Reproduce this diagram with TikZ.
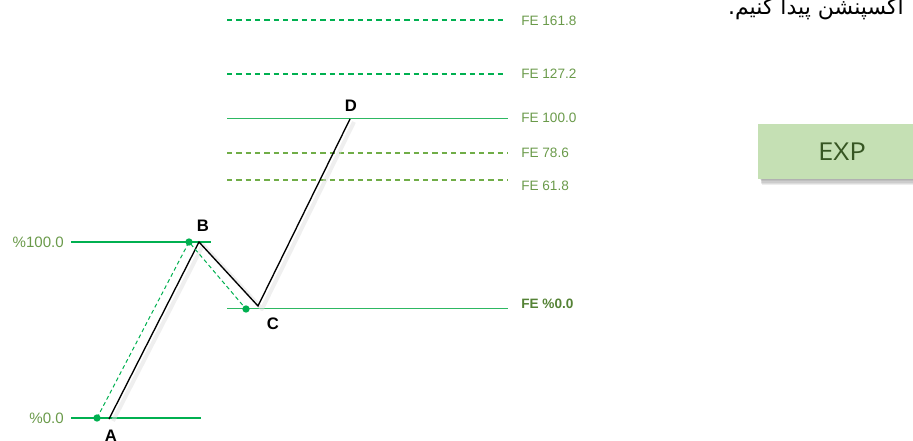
\documentclass[tikz,border=0pt]{standalone}
\usepackage{fontspec}
\usepackage{graphicx}
\setmainfont{Liberation Sans}
\newfontfamily\arabicfont[Script=Arabic]{DejaVu Sans}
\newfontfamily\expfont{Open Sans}
\TeXXeTstate=1
\definecolor{gline}{HTML}{00B050}
\definecolor{gthin}{HTML}{2DB862}
\definecolor{oline}{HTML}{70AD47}
\definecolor{lbl}{HTML}{6A9A4A}
\definecolor{lbld}{HTML}{548235}
\definecolor{expfill}{HTML}{C5E0B4}
\definecolor{exptext}{HTML}{375623}
\tikzset{
  thickg/.style={draw=gline, line width=2.2pt},
  thing/.style={draw=gthin, line width=0.75pt},
  dashg/.style={draw=gline, line width=0.8pt, dash pattern=on 4pt off 3pt},
  dasho/.style={draw=oline, line width=0.8pt, dash pattern=on 4pt off 3pt},
  dashpath/.style={draw=gline, line width=0.75pt, dash pattern=on 3pt off 2.2pt},
  zig/.style={draw=black, line width=1pt, line join=miter},
  zigshadow/.style={draw=black!12, line width=3pt, opacity=0.5, line join=round},
  dotg/.style={circle, fill=gline, inner sep=0pt, minimum size=5.5pt},
  fel/.style={anchor=west, text=lbl, inner sep=0pt, font=\fontsize{10.2pt}{12pt}\selectfont},
  pctl/.style={anchor=east, text=lbl, inner sep=0pt, font=\fontsize{11.3pt}{13pt}\selectfont},
  ptl/.style={inner sep=0pt, font=\fontsize{12.5pt}{14pt}\selectfont\bfseries},
}
\begin{document}
\begin{tikzpicture}[x=0.75pt,y=-0.75pt]
\useasboundingbox (0,0) rectangle (913,441);
\clip (0,0) rectangle (913,441);

% Persian text (cut at top)
\node (fa) [anchor=base east, inner sep=0pt, font=\arabicfont\fontsize{16.5pt}{18pt}\selectfont] at (904,15) {\beginR اکسپنشن پیدا کنیم.\endR};

% EXP box with shadow
\foreach \i in {1,...,5} {
  \fill[black, opacity=0.07] (760+\i*0.3,128+\i) rectangle (930,179+\i*1.2);
}
\node (exp) [fill=expfill, minimum width=126pt, minimum height=41.25pt, inner sep=0pt, text=exptext, font=\expfont\fontsize{18.5pt}{20pt}\selectfont] at (842,151.5) {\scalebox{1.12}[1]{EXP}};

% retracement levels
\coordinate (h1a) at (71,242); \coordinate (h1b) at (211,242);
\coordinate (h0a) at (71,418); \coordinate (h0b) at (201,418);
\draw[thickg] (h1a) -- (h1b);
\draw[thickg] (h0a) -- (h0b);
\node (p100) [pctl] at (64,242) {\%100.0};
\node (p0) [pctl] at (64,418) {\%0.0};

% FE levels
\coordinate (f161a) at (227,20); \coordinate (f161b) at (503,20);
\coordinate (f127a) at (227,74); \coordinate (f127b) at (503,74);
\coordinate (f100a) at (227,119); \coordinate (f100b) at (508,119);
\coordinate (f78a) at (227,153); \coordinate (f78b) at (508,153);
\coordinate (f61a) at (227,180); \coordinate (f61b) at (508,180);
\coordinate (f0a) at (227,309); \coordinate (f0b) at (508,309);
\draw[dashg] (f161a) -- (f161b);
\draw[dashg] (f127a) -- (f127b);
\draw[thing] (f100a) -- (f100b);
\draw[dasho] (f78a) -- (f78b);
\draw[dasho] (f61a) -- (f61b);
\draw[thing] (f0a) -- (f0b);
\node (l161) [fel] at (521,21) {FE 161.8};
\node (l127) [fel] at (521,74) {FE 127.2};
\node (l100) [fel] at (521,118) {FE 100.0};
\node (l78) [fel] at (521,153) {FE 78.6};
\node (l61) [fel] at (521,186) {FE 61.8};
\node (l0) [fel, text=lbld, font=\fontsize{10.2pt}{12pt}\selectfont\bfseries] at (521,304) {FE \%0.0};

% zigzag A-B-C-D
\coordinate (pA) at (109,419);
\coordinate (pB) at (199,242);
\coordinate (pC) at (258,306);
\coordinate (pD) at (350,119);
\coordinate (sA) at (113,421);
\coordinate (sB) at (203,245);
\coordinate (sC) at (262,309);
\coordinate (sD) at (354,122);
\draw[zigshadow] (sA) -- (sB) -- (sC) -- (sD);
\draw[zig] (pA) -- (pB) -- (pC) -- (pD);

% dashed green path with dots
\node (dA) [dotg] at (97,418) {};
\node (dB) [dotg] at (189,242) {};
\node (dC) [dotg] at (246,309) {};
\draw[dashpath] (dA.center) -- (dB.center) -- (dC.center);

% point labels
\node (lA) [ptl] at (111,436) {A};
\node (lB) [ptl] at (203,226) {B};
\node (lC) [ptl] at (273,324) {C};
\node (lD) [ptl] at (351,106) {D};
\end{tikzpicture}
\end{document}
